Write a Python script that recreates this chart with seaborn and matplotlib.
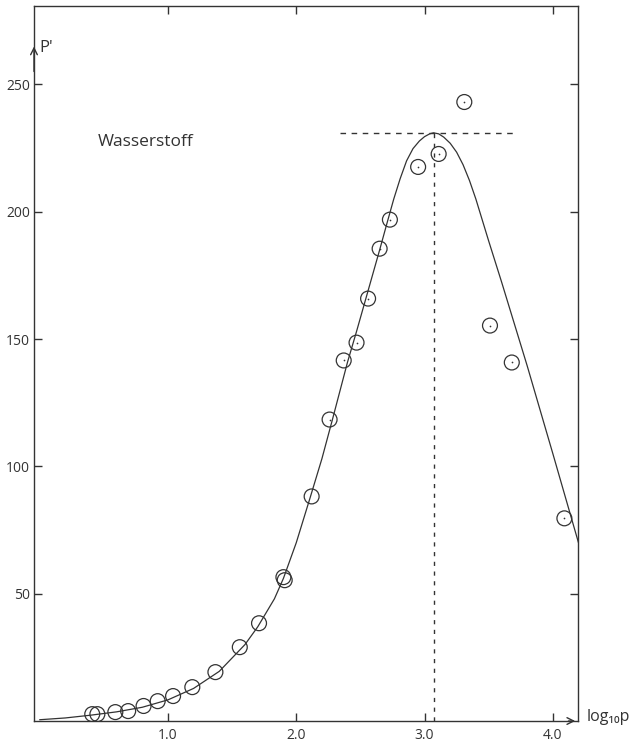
import numpy as np
import pandas as pd
import seaborn as sns
import matplotlib.pyplot as plt

# measured points (log10 p, P')
log_p = [0.41, 0.45, 0.59, 0.69, 0.81, 0.92, 1.04, 1.19, 1.37, 1.56, 1.71,
         1.90, 1.91, 2.12, 2.26, 2.37, 2.47, 2.56, 2.65, 2.73, 2.95, 3.11,
         3.31, 3.51, 3.68, 4.09]
p_prime = [2.7, 2.7, 3.5, 3.9, 5.9, 7.8, 9.8, 13.3, 19.2, 29.0, 38.4,
           56.5, 55.3, 88.2, 118.4, 141.6, 148.6, 165.9, 185.5, 196.9, 217.6, 222.7,
           243.1, 155.3, 140.8, 79.6]

# fitted curve
curve_x = [0.0, 0.2, 0.4, 0.6, 0.8, 1.0, 1.2, 1.4, 1.6, 1.7, 1.83, 1.9, 2.0,
           2.11, 2.2, 2.28, 2.4, 2.47, 2.56, 2.65, 2.71, 2.76, 2.81, 2.86, 2.91,
           2.96, 3.0, 3.04, 3.07, 3.11, 3.15, 3.2, 3.25, 3.3, 3.35, 3.4, 3.5,
           3.6, 3.8, 4.0, 4.2]
curve_y = [0.5, 1.2, 2.3, 3.6, 5.4, 8.3, 12.8, 19.5, 30.0, 37.0, 48.0, 56.0, 70.0,
           88.0, 103.0, 118.0, 141.0, 153.0, 169.0, 185.0, 196.0, 205.0, 213.0, 220.0, 224.8,
           227.8, 229.5, 230.6, 231.0, 230.6, 229.3, 226.9, 223.4, 218.5, 212.3, 205.0, 188.5,
           172.5, 139.5, 105.0, 70.0]

peak_x = 3.07
peak_y = 231.0

x_ticks = [1.0, 2.0, 3.0, 4.0]
x_labels = ["1.0", "2.0", "3.0", "4.0"]
y_ticks = [50, 100, 150, 200, 250]
y_labels = ["50", "100", "150", "200", "250"]

ink = "#333333"

sns.set_theme(style="ticks")
plt.rcParams['font.family'] = ['Open Sans', 'DejaVu Sans']

fig = plt.figure(figsize=(6.33, 7.44), dpi=100)
ax = fig.add_axes([0.0537, 0.0309, 0.8594, 0.9610])

df_pts = pd.DataFrame({'x': log_p, 'y': p_prime})
df_curve = pd.DataFrame({'x': curve_x, 'y': curve_y})

sns.lineplot(data=df_curve, x='x', y='y', ax=ax, color=ink, linewidth=0.9,
             sort=False, estimator=None)
sns.scatterplot(data=df_pts, x='x', y='y', ax=ax, marker='o', s=115,
                facecolors='none', edgecolors=ink, linewidth=0.9, zorder=3)
sns.scatterplot(data=df_pts.iloc[14:], x='x', y='y', ax=ax, marker='o', s=1.5,
                color=ink, edgecolor=ink, linewidth=0, zorder=4)

# peak guide lines
ax.plot([2.34, 3.70], [peak_y, peak_y], color=ink, linewidth=1.0,
        dashes=(4, 4))
ax.plot([peak_x, peak_x], [0, peak_y], color=ink, linewidth=1.0,
        dashes=(3, 4))

ax.set_xlim(-0.044, 4.196)
ax.set_ylim(0, 280.8)
ax.set_xticks(x_ticks)
ax.set_xticklabels(x_labels)
ax.set_yticks(y_ticks)
ax.set_yticklabels(y_labels)
ax.set_xlabel('')
ax.set_ylabel('')

ax.tick_params(direction='in', length=6, width=1.0, color=ink,
               labelcolor=ink, labelsize=10, top=True, right=True)
ax.tick_params(axis='x', pad=5)
ax.tick_params(axis='y', pad=3)
for s in ax.spines.values():
    s.set_color(ink)
    s.set_linewidth(1.0)

# axis arrows
ax.annotate('', xy=(-0.044, 266), xytext=(-0.044, 254),
            arrowprops=dict(arrowstyle='->', color=ink, lw=1.0),
            annotation_clip=False)
ax.text(0.0, 264.5, "P'", fontsize=12, color=ink, va='center', ha='left')
ax.annotate('', xy=(4.196, 0), xytext=(4.10, 0),
            arrowprops=dict(arrowstyle='->', color=ink, lw=1.0),
            annotation_clip=False)
ax.text(4.26, 1.5, "log₁₀p", fontsize=11.5, color=ink, va='center', ha='left',
        clip_on=False)

ax.text(0.45, 227.5, "Wasserstoff", fontsize=12.5, color=ink, va='center', ha='left')

fig.savefig("out.png", dpi=100)
